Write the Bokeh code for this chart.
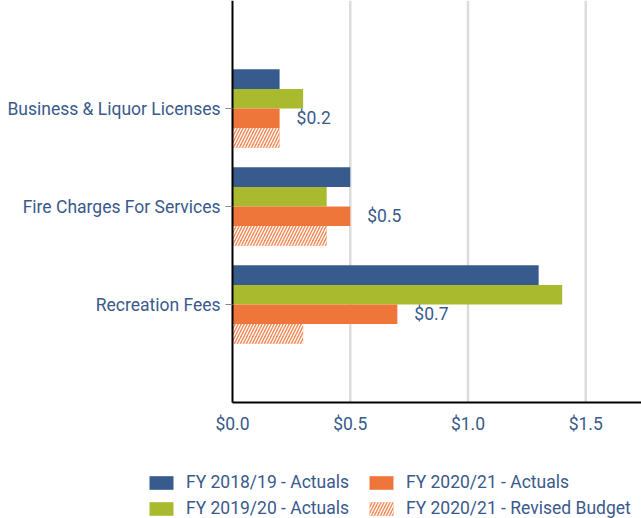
from bokeh.plotting import figure
from bokeh.models import ColumnDataSource, Range1d, Legend, LegendItem, NumeralTickFormatter, FixedTicker
from bokeh.transform import dodge
from bokeh.core.properties import value
from bokeh.embed import file_html
from bokeh.resources import INLINE

categories = ["Business & Liquor Licenses", "Fire Charges For Services", "Recreation Fees"]
fy1819_actuals = [0.2, 0.5, 1.3]
fy1920_actuals = [0.3, 0.4, 1.4]
fy2021_actuals = [0.2, 0.5, 0.7]
fy2021_budget = [0.2, 0.4, 0.3]
series_names = ["FY 2018/19 - Actuals", "FY 2019/20 - Actuals",
                "FY 2020/21 - Actuals", "FY 2020/21 - Revised Budget"]
x_ticks = [0.0, 0.5, 1.0, 1.5]

BLUE = "#385b8e"
GREEN = "#a9ba2e"
ORANGE = "#ee763a"
TEXT = "#3a5a8c"
FONT = "Roboto"
FS = "17.5px"

n = len(categories)
ypos = [n - i for i in range(n)]          # category slots 3, 2, 1 (slot 0 = axis)
y_top = n + 1

src = ColumnDataSource(dict(
    cat=ypos,
    a=fy1819_actuals,
    b=fy1920_actuals,
    c=fy2021_actuals,
    d=fy2021_budget,
    lbl=["${:.1f}".format(v) for v in fy2021_actuals],
))

styles = [
    dict(fill_color=BLUE, line_color=None),
    dict(fill_color=GREEN, line_color=None),
    dict(fill_color=ORANGE, line_color=None),
    dict(fill_color=ORANGE, fill_alpha=0.85, line_color=None,
         hatch_pattern="/", hatch_color="white", hatch_scale=6, hatch_weight=1.3),
]
cols = ["a", "b", "c", "d"]
offsets = [0.3, 0.1, -0.1, -0.3]

W, H = 641, 518
PX_PER_X = 235.5     # pixels per $1
PX_PER_Y = 98.0      # pixels per category slot
LEFT, TOP = 232, 10
x_range = Range1d(-LEFT / PX_PER_X, (W - LEFT) / PX_PER_X)
y_end = y_top + TOP / PX_PER_Y
y_range = Range1d(y_end - H / PX_PER_Y, y_end)

p = figure(x_range=x_range, y_range=y_range, width=W, height=H, min_border=0,
           output_backend="svg", toolbar_location=None)
p.outline_line_color = None
p.background_fill_color = "white"
p.grid.visible = False

# vertical grid lines at the x ticks, limited to the chart area
p.segment(x0=x_ticks[1:], y0=[0] * (len(x_ticks) - 1), x1=x_ticks[1:],
          y1=[y_end] * (len(x_ticks) - 1), line_color="#dcdcdc", line_width=2.5)

h = 0.2
rs = []
for col, off, st in zip(cols, offsets, styles):
    rs.append(p.hbar(y=dodge("cat", off), right=col, left=0, height=h,
                     source=src, **st))

p.text(x="c", y=dodge("cat", -0.1), text="lbl", source=src,
       x_offset=17, text_baseline="middle", text_align="left",
       text_font=value(FONT), text_font_size=FS, text_color=TEXT)

# axes, pinned to the chart's origin
xa = p.xaxis[0]
xa.fixed_location = 0
xa.bounds = (0, x_range.end)
xa.ticker = FixedTicker(ticks=x_ticks)
xa.formatter = NumeralTickFormatter(format="$0.0")
xa.axis_line_color = "black"
xa.axis_line_width = 2
xa.major_tick_line_color = None
xa.minor_tick_line_color = None
xa.major_label_standoff = 5
xa.major_label_text_font = FONT
xa.major_label_text_font_size = FS
xa.major_label_text_color = TEXT

ya = p.yaxis[0]
ya.fixed_location = 0
ya.bounds = (0, y_end)
ya.ticker = FixedTicker(ticks=ypos)
ya.major_label_overrides = {y: c for y, c in zip(ypos, categories)}
ya.axis_line_color = "black"
ya.axis_line_width = 2
ya.major_tick_line_color = "#888888"
ya.minor_tick_line_color = None
ya.major_tick_out = 7
ya.major_tick_in = 0
ya.major_label_standoff = 5
ya.major_label_text_font = FONT
ya.major_label_text_font_size = FS
ya.major_label_text_color = TEXT

legend = Legend(items=[LegendItem(label=nm, renderers=[r]) for nm, r in zip(series_names, rs)],
                location=(146, 0), nrows=2, orientation="vertical",
                glyph_width=30, glyph_height=17, label_height=20, label_width=174,
                label_standoff=10, spacing=6, padding=0, margin=0,
                border_line_color=None, background_fill_alpha=0,
                label_text_font=FONT, label_text_font_size=FS, label_text_color=TEXT)
p.add_layout(legend, "center")

open("out.html", "w").write(file_html(p, INLINE))
